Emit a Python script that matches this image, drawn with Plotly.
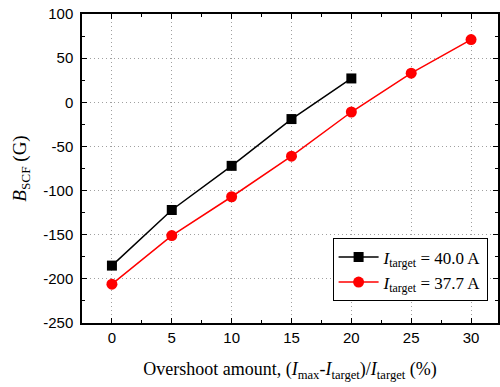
import plotly.graph_objects as go

x_black = [0, 5, 10, 15, 20]
y_black = [-185, -122, -72, -19, 27]
x_red = [0, 5, 10, 15, 20, 25, 30]
y_red = [-206, -151, -107, -61, -11, 33, 71]
x_ticks = [0, 5, 10, 15, 20, 25, 30]
y_ticks = [-250, -200, -150, -100, -50, 0, 50, 100]
y_ticklabels = ["-250", "-200", "-150", "-100", "-50", "0", "50", "100"]

fig = go.Figure()
fig.add_trace(go.Scatter(x=x_black, y=y_black, mode="lines+markers",
                         name="<i>I</i><sub>target</sub> = 40.0 A",
                         line=dict(color="black", width=1.5),
                         marker=dict(symbol="square", size=10, color="black")))
fig.add_trace(go.Scatter(x=x_red, y=y_red, mode="lines+markers",
                         name="<i>I</i><sub>target</sub> = 37.7 A",
                         line=dict(color="red", width=1.5),
                         marker=dict(symbol="circle", size=11, color="red")))

axis_common = dict(showline=True, linecolor="black", linewidth=1.5, mirror="ticks",
                   ticks="inside", ticklen=5, tickcolor="black", zeroline=False,
                   showgrid=True, gridcolor="#a0a0a0", griddash="1px,3px", gridwidth=1,
                   tickfont=dict(family="Liberation Sans, Arial", size=15, color="black"))

fig.update_xaxes(range=[-2.5, 32.25], tickvals=x_ticks,
                 minor=dict(ticks="inside", dtick=2.5, tick0=0, ticklen=3, tickcolor="black", showgrid=False),
                 title=dict(text="Overshoot amount, (<i>I</i><sub>max</sub>-<i>I</i><sub>target</sub>)/<i>I</i><sub>target</sub> (%)",
                            font=dict(family="Liberation Serif, Times New Roman", size=18, color="black"), standoff=18),
                 **axis_common)
fig.update_yaxes(range=[-250, 100], tickvals=y_ticks, ticktext=y_ticklabels, ticklabelstandoff=4,
                 minor=dict(ticks="inside", dtick=25, tick0=0, ticklen=3, tickcolor="black", showgrid=False),
                 title=dict(text="<i>B</i><sub>SCF</sub> (G)",
                            font=dict(family="Liberation Serif, Times New Roman", size=19, color="black"), standoff=12),
                 **axis_common)

fig.update_layout(width=500, height=387, margin=dict(l=82, r=0, t=14, b=64),
                  plot_bgcolor="white", paper_bgcolor="white",
                  legend=dict(x=0.975, y=0.07, xanchor="right", yanchor="bottom",
                              bordercolor="black", borderwidth=1, bgcolor="white",
                              font=dict(family="Liberation Serif, Times New Roman", size=17, color="black"),
                              tracegroupgap=0, itemwidth=40))

fig.write_html("out.html")
